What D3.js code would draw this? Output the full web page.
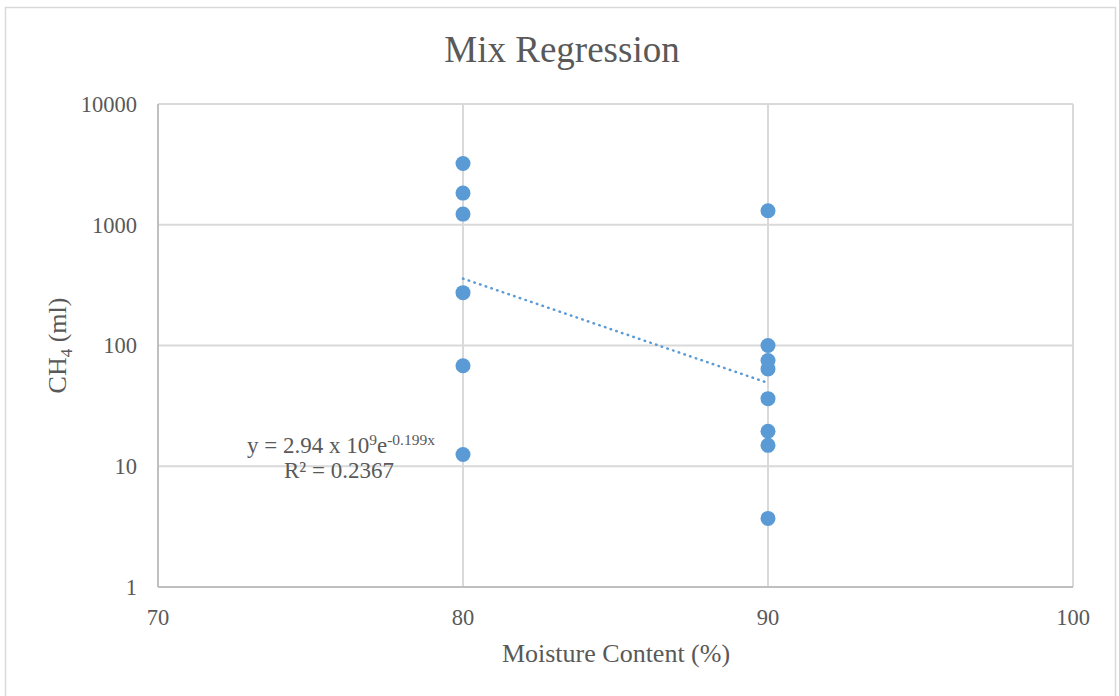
<!DOCTYPE html>
<html>
<head>
<meta charset="utf-8">
<title>Mix Regression</title>
<script src="https://cdn.jsdelivr.net/npm/d3@7"></script>
<style>
  body { margin: 0; background: #fff; }
  text { font-family: "Liberation Serif", "Times New Roman", serif; fill: #595959; }
</style>
</head>
<body>
<script>
// data
var moisture = [80, 80, 80, 80, 80, 80, 90, 90, 90, 90, 90, 90, 90, 90];
var methane  = [3213, 1828, 1225, 274, 68, 12.5, 1306, 100, 75, 64, 36.3, 19.5, 14.9, 3.7];
var xTicks = [70, 80, 90, 100];
var yTicks = [1, 10, 100, 1000, 10000];
// fitted trend given on the chart: y = a * exp(b x)
var fitA = 2.94e9, fitB = -0.199, fitRange = [80, 90];

var W = 1119, H = 696;
var margin = {top: 104, right: 46, bottom: 109, left: 158};
var width = W - margin.left - margin.right;
var height = H - margin.top - margin.bottom;

var svg = d3.select("body").append("svg")
  .attr("width", W).attr("height", H);

// chart frame
svg.append("rect")
  .attr("x", 5.5).attr("y", 7.5).attr("width", 1110).attr("height", 700)
  .attr("fill", "none").attr("stroke", "#d9d9d9").attr("stroke-width", 1.5);

var g = svg.append("g").attr("transform", "translate(" + margin.left + "," + margin.top + ")");

var x = d3.scaleLinear().domain([70, 100]).range([0, width]);
var y = d3.scaleLog().domain([1, 10000]).range([height, 0]);

// grid lines
g.selectAll(".hgrid").data(yTicks).enter().append("line")
  .attr("x1", 0).attr("x2", width)
  .attr("y1", function(d) { return y(d); }).attr("y2", function(d) { return y(d); })
  .attr("stroke", "#d9d9d9").attr("stroke-width", 2);
g.selectAll(".vgrid").data(xTicks).enter().append("line")
  .attr("y1", 0).attr("y2", height)
  .attr("x1", function(d) { return x(d); }).attr("x2", function(d) { return x(d); })
  .attr("stroke", "#d9d9d9").attr("stroke-width", 2);

// axis lines (left and bottom a bit darker)
g.append("line").attr("x1", 0).attr("x2", 0).attr("y1", 0).attr("y2", height)
  .attr("stroke", "#bfbfbf").attr("stroke-width", 2);
g.append("line").attr("x1", 0).attr("x2", width).attr("y1", height).attr("y2", height)
  .attr("stroke", "#bfbfbf").attr("stroke-width", 2);

// tick labels
g.selectAll(".ylab").data(yTicks).enter().append("text")
  .attr("x", -21).attr("y", function(d) { return y(d); })
  .attr("dy", "0.35em").attr("text-anchor", "end")
  .style("font-size", "22.5px")
  .text(function(d) { return d; });
g.selectAll(".xlab").data(xTicks).enter().append("text")
  .attr("x", function(d) { return x(d); }).attr("y", height + 30)
  .attr("dy", "0.35em").attr("text-anchor", "middle")
  .style("font-size", "22.5px")
  .text(function(d) { return d; });

// points
g.selectAll(".pt").data(methane).enter().append("circle")
  .attr("cx", function(d, i) { return x(moisture[i]); })
  .attr("cy", function(d) { return y(d); })
  .attr("r", 7.5)
  .attr("fill", "#5b9bd5");

// trendline
var trend = d3.range(fitRange[0], fitRange[1] + 0.01, 0.5).map(function(v) {
  return [v, fitA * Math.exp(fitB * v)];
});
g.append("path")
  .datum(trend)
  .attr("d", d3.line().x(function(d) { return x(d[0]); }).y(function(d) { return y(d[1]); }))
  .attr("fill", "none").attr("stroke", "#5b9bd5").attr("stroke-width", 2.5)
  .attr("stroke-linecap", "round").attr("stroke-dasharray", "0.5 5.5");

// equation label
var eq = svg.append("text").attr("x", 341).attr("y", 453)
  .attr("text-anchor", "middle").style("font-size", "23px");
eq.append("tspan").text("y = 2.94 x 10");
eq.append("tspan").attr("dy", -8).style("font-size", "15.5px").text("9");
eq.append("tspan").attr("dy", 8).text("e");
eq.append("tspan").attr("dy", -8).style("font-size", "15.5px").text("-0.199x");
svg.append("text").attr("x", 339).attr("y", 478)
  .attr("text-anchor", "middle").style("font-size", "23px")
  .text("R\u00b2 = 0.2367");

// title
svg.append("text").attr("x", 562).attr("y", 62)
  .attr("text-anchor", "middle").style("font-size", "37px")
  .text("Mix Regression");

// axis titles
svg.append("text").attr("x", 616).attr("y", 662)
  .attr("text-anchor", "middle").style("font-size", "26px")
  .text("Moisture Content (%)");
var yt = svg.append("text")
  .attr("transform", "translate(66," + (margin.top + height / 2) + ") rotate(-90)")
  .attr("text-anchor", "middle").style("font-size", "26px");
yt.append("tspan").text("CH");
yt.append("tspan").attr("dy", 6).style("font-size", "17px").text("4");
yt.append("tspan").attr("dy", -6).text(" (ml)");
</script>
</body>
</html>
